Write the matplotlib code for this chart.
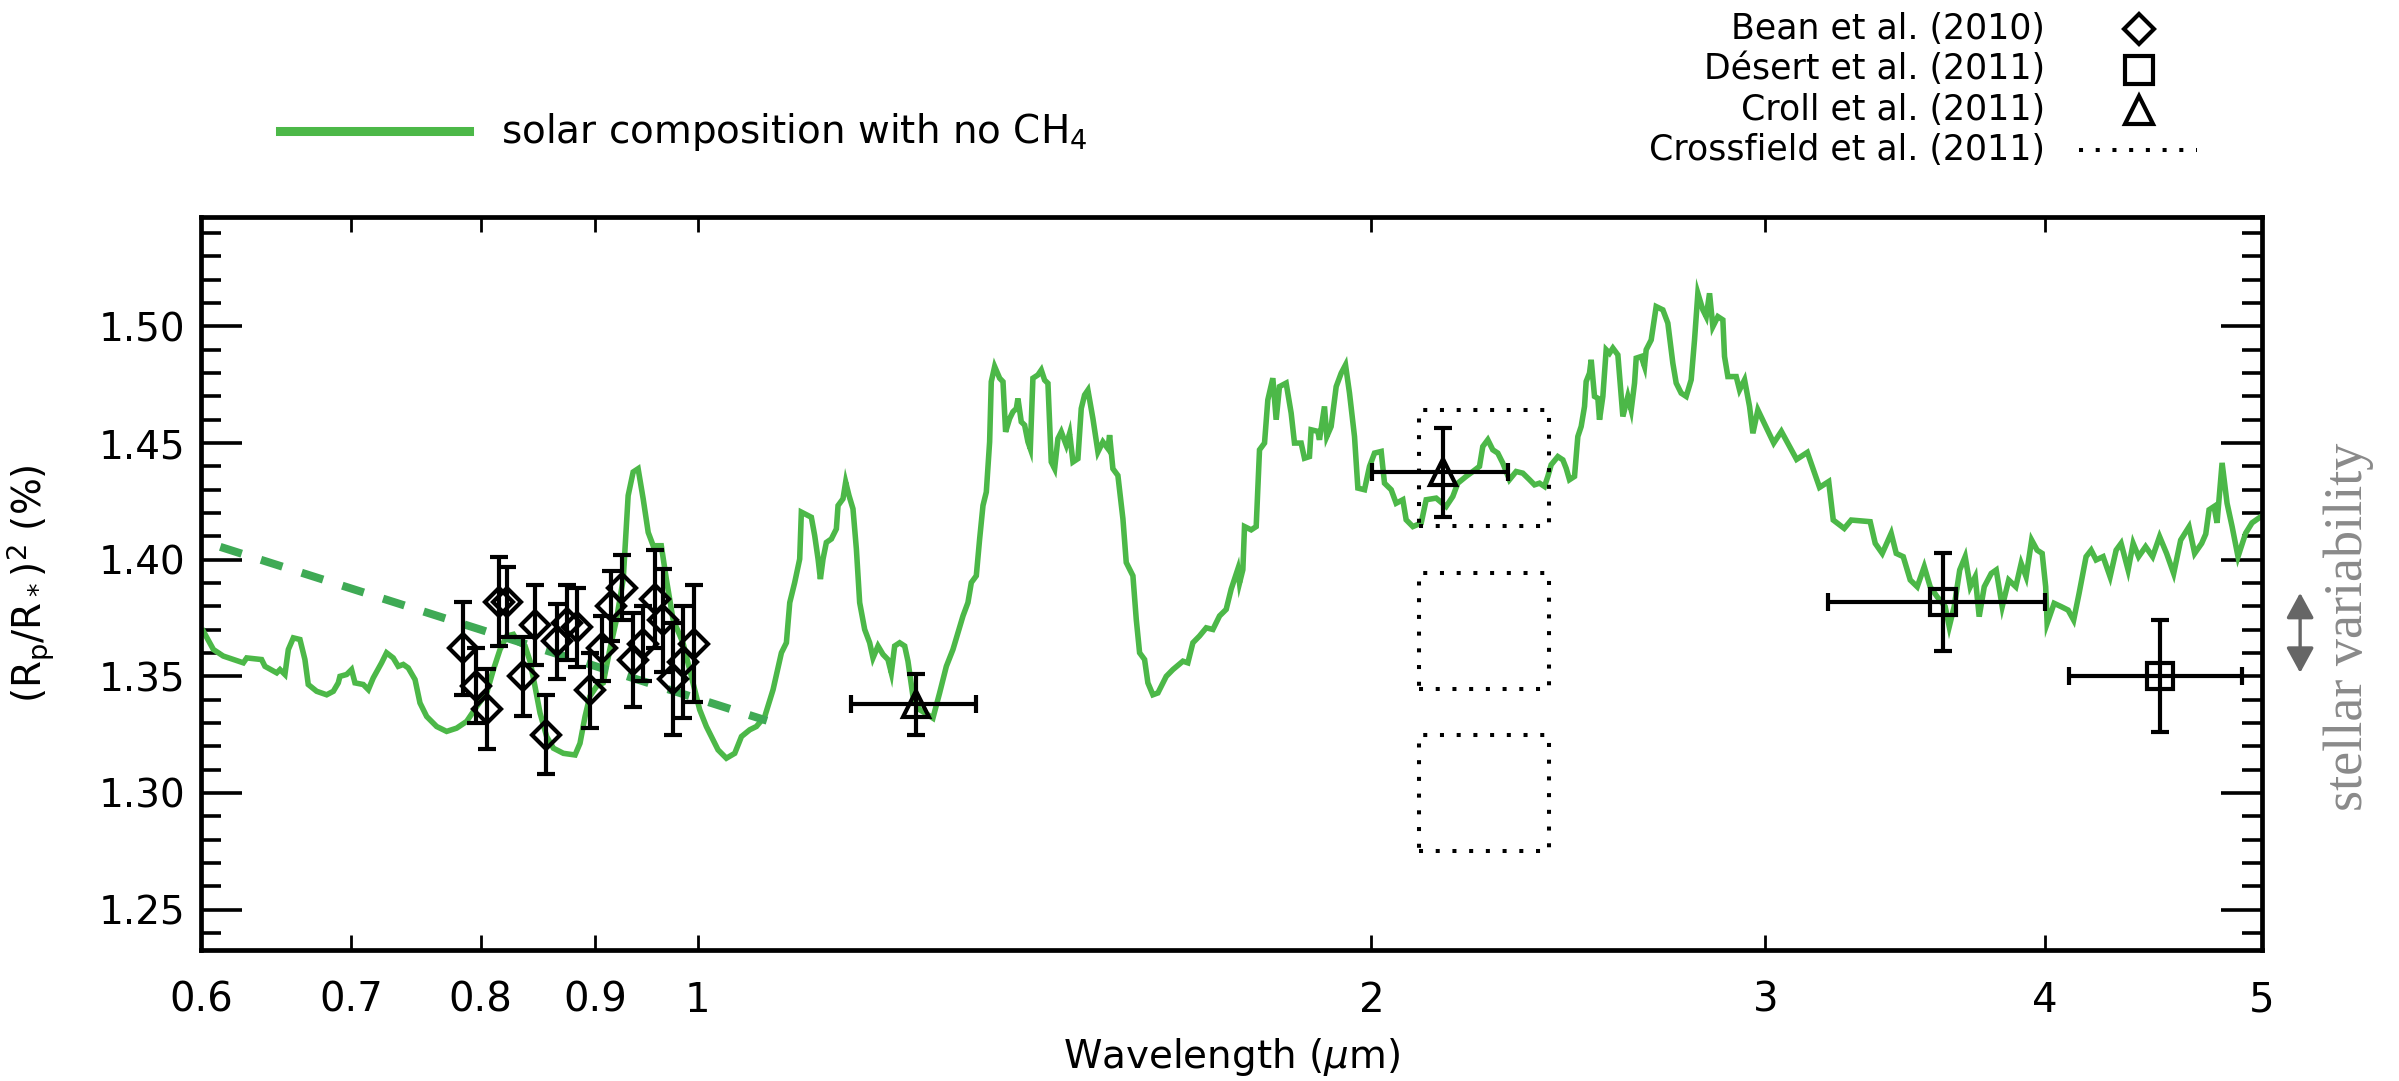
import matplotlib
matplotlib.use("Agg")
import matplotlib.pyplot as plt
import matplotlib.transforms as mtransforms
from matplotlib.lines import Line2D
from matplotlib.patches import FancyArrowPatch
from matplotlib.ticker import FixedLocator, FixedFormatter, MultipleLocator

plt.rcParams['font.family'] = ['DejaVu Sans']
plt.rcParams['mathtext.default'] = 'regular'

# ---------------------------------------------------------------- data
# Model transmission spectrum: solar composition, no CH4 (wavelength in micron, depth in %)
model_wl = [
    0.6014, 0.6077, 0.6139, 0.6267, 0.6289, 0.6386, 0.6408, 0.6486, 0.6508, 0.6541,
    0.6564, 0.6598, 0.6643, 0.6677, 0.6700, 0.6758, 0.6828, 0.6875, 0.6910, 0.6922,
    0.6970, 0.7005, 0.7030, 0.7090, 0.7127, 0.7163, 0.7225, 0.7262, 0.7312, 0.7350,
    0.7388, 0.7426, 0.7478, 0.7516, 0.7568, 0.7646, 0.7725, 0.7805, 0.7886, 0.7968,
    0.8050, 0.8106, 0.8161, 0.8218, 0.8274, 0.8317, 0.8374, 0.8417, 0.8460, 0.8504,
    0.8562, 0.8622, 0.8711, 0.8816, 0.8861, 0.8907, 0.8951, 0.9013, 0.9075, 0.9137,
    0.9200, 0.9264, 0.9311, 0.9359, 0.9407, 0.9456, 0.9505, 0.9554, 0.9634, 0.9684,
    0.9751, 0.9851, 0.9953, 1.0022, 1.0091, 1.0178, 1.0213,
    1.0301, 1.0390, 1.0462, 1.0552, 1.0624, 1.0716, 1.0808, 1.0901, 1.0957, 1.0995,
    1.1051, 1.1108, 1.1127, 1.1204, 1.1242, 1.1281, 1.1320, 1.1347, 1.1378, 1.1417,
    1.1476, 1.1535, 1.1555, 1.1614, 1.1646, 1.1686, 1.1734, 1.1775, 1.1815, 1.1876,
    1.1937, 1.1978, 1.2040, 1.2102, 1.2164, 1.2206, 1.2248, 1.2311, 1.2375, 1.2417,
    1.2481, 1.2567, 1.2675, 1.2740, 1.2828, 1.2917, 1.3005, 1.3072, 1.3140, 1.3207,
    1.3253, 1.3321, 1.3367, 1.3413, 1.3459, 1.3505, 1.3528, 1.3575, 1.3645, 1.3692,
    1.3729, 1.3786, 1.3833, 1.3881, 1.3904, 1.3952, 1.4000, 1.4048, 1.4082, 1.4120,
    1.4193, 1.4242, 1.4291, 1.4340, 1.4389, 1.4439, 1.4488, 1.4538, 1.4613, 1.4663,
    1.4714, 1.4789, 1.4840, 1.4891, 1.4942, 1.5019, 1.5097, 1.5174, 1.5253, 1.5279,
    1.5331, 1.5410, 1.5490, 1.5543, 1.5650, 1.5704, 1.5758, 1.5839, 1.5893, 1.5975,
    1.6058, 1.6196, 1.6307, 1.6476, 1.6560, 1.6646, 1.6760, 1.6876, 1.6992, 1.7109,
    1.7226, 1.7315, 1.7434,
    1.7464, 1.7524, 1.7554, 1.7675, 1.7766, 1.7827, 1.7919, 1.7980, 1.8073, 1.8135,
    1.8197, 1.8322, 1.8417, 1.8480, 1.8607, 1.8671, 1.8767, 1.8799, 1.8929, 1.8961,
    1.9059, 1.9105, 1.9190, 1.9290, 1.9390, 1.9476, 1.9556, 1.9657, 1.9725, 1.9860,
    1.9963, 2.0066, 2.0204, 2.0273, 2.0413, 2.0518, 2.0659, 2.0730, 2.0873, 2.1053,
    2.1161, 2.1380, 2.1600, 2.1749, 2.1861, 2.2049, 2.2201, 2.2354, 2.2430, 2.2546,
    2.2662, 2.2779, 2.2897, 2.3054, 2.3213, 2.3373, 2.3534, 2.3656, 2.3778, 2.3900,
    2.3983, 2.4065, 2.4231, 2.4356, 2.4439, 2.4523, 2.4650, 2.4734, 2.4819, 2.4905,
    2.4947, 2.5033, 2.5076, 2.5162, 2.5249, 2.5292, 2.5379, 2.5466, 2.5554, 2.5642,
    2.5774, 2.5907, 2.6040, 2.6130, 2.6220, 2.6265, 2.6400, 2.6491, 2.6536, 2.6673,
    2.6810, 2.6995, 2.7134, 2.7274, 2.7368, 2.7509, 2.7651, 2.7793, 2.7889, 2.7985,
    2.8129, 2.8226, 2.8323, 2.8420, 2.8567, 2.8714, 2.8763, 2.8862, 2.9111, 2.9211,
    2.9362, 2.9513, 2.9615, 2.9767,
    3.0256, 3.0495, 3.0977, 3.1321, 3.1717, 3.2017,
    3.2167, 3.2533, 3.2768, 3.3413, 3.3587, 3.3830, 3.4143, 3.4321, 3.4569, 3.4819,
    3.5070, 3.5324, 3.5540, 3.5797, 3.6092, 3.6244, 3.6429, 3.6637, 3.6843, 3.7035,
    3.7225, 3.7378, 3.7573, 3.7844, 3.8038, 3.8274, 3.8531, 3.8813, 3.9028, 3.9227,
    3.9451, 3.9673, 3.9880, 4.0024, 4.0084, 4.0374, 4.0665, 4.0959, 4.1193, 4.1424,
    4.1723, 4.1941, 4.2155, 4.2460, 4.2767, 4.3033, 4.3253, 4.3566, 4.3793, 4.4039,
    4.4357, 4.4678, 4.5000, 4.5325, 4.5657, 4.5987, 4.6384, 4.6654, 4.6991,
    4.7189, 4.7350, 4.7593, 4.7740, 4.7989, 4.8235, 4.8486, 4.8781, 4.9168, 4.9489,
    4.9951,
]
model_depth = [
    1.3694, 1.3615, 1.3587, 1.3558, 1.3579, 1.3572, 1.3543, 1.3515, 1.3529, 1.3508,
    1.3615, 1.3665, 1.3658, 1.3572, 1.3465, 1.3436, 1.3421, 1.3436, 1.3472, 1.3500,
    1.3508, 1.3529, 1.3472, 1.3465, 1.3443, 1.3493, 1.3558, 1.3601, 1.3579, 1.3543,
    1.3551, 1.3536, 1.3486, 1.3386, 1.3328, 1.3285, 1.3264, 1.3278, 1.3307, 1.3371,
    1.3429, 1.3529, 1.3615, 1.3673, 1.3680, 1.3644, 1.3630, 1.3565, 1.3457, 1.3343,
    1.3242, 1.3192, 1.3170, 1.3163, 1.3213, 1.3328, 1.3414, 1.3457, 1.3472, 1.3615,
    1.3744, 1.3917, 1.4275, 1.4376, 1.4390, 1.4261, 1.4117, 1.4060, 1.4060, 1.3917,
    1.3744, 1.3644, 1.3472, 1.3357, 1.3285, 1.3213, 1.3185,
    1.3149, 1.3170, 1.3242, 1.3271, 1.3285, 1.3328, 1.3443, 1.3601, 1.3644, 1.3816,
    1.3902, 1.4003, 1.4204, 1.4189, 1.4182, 1.4103, 1.4003, 1.3917, 1.4003, 1.4074,
    1.4089, 1.4132, 1.4232, 1.4261, 1.4333, 1.4275, 1.4218, 1.4046, 1.3816, 1.3701,
    1.3644, 1.3579, 1.3630, 1.3594, 1.3572, 1.3515, 1.3630, 1.3644, 1.3630, 1.3565,
    1.3414, 1.3357, 1.3335, 1.3321, 1.3429, 1.3543, 1.3615, 1.3687, 1.3759, 1.3816,
    1.3902, 1.3931, 1.4089, 1.4232, 1.4290, 1.4505, 1.4763, 1.4828, 1.4778, 1.4763,
    1.4548, 1.4605, 1.4634, 1.4648, 1.4691, 1.4591, 1.4577, 1.4505, 1.4476, 1.4778,
    1.4792, 1.4813, 1.4770, 1.4756, 1.4419, 1.4390, 1.4519, 1.4548, 1.4491, 1.4541,
    1.4419, 1.4433, 1.4648, 1.4706, 1.4727, 1.4605, 1.4462, 1.4505, 1.4476, 1.4534,
    1.4390, 1.4361, 1.4175, 1.3988, 1.3931, 1.3744, 1.3601, 1.3572, 1.3472, 1.3421,
    1.3429, 1.3500, 1.3529, 1.3565, 1.3558, 1.3644, 1.3673, 1.3708, 1.3701, 1.3759,
    1.3787, 1.3874, 1.3960,
    1.3900, 1.3957, 1.4142, 1.4128, 1.4142, 1.4471, 1.4500, 1.4685, 1.4778, 1.4600,
    1.4742, 1.4757, 1.4628, 1.4500, 1.4500, 1.4435, 1.4442, 1.4557, 1.4550, 1.4514,
    1.4657, 1.4528, 1.4571, 1.4742, 1.4800, 1.4835, 1.4714, 1.4528, 1.4307, 1.4300,
    1.4400, 1.4457, 1.4464, 1.4328, 1.4300, 1.4242, 1.4257, 1.4171, 1.4142, 1.4157,
    1.4257, 1.4264, 1.4228, 1.4271, 1.4328, 1.4357, 1.4378, 1.4400, 1.4485, 1.4514,
    1.4471, 1.4457, 1.4414, 1.4343, 1.4378, 1.4371, 1.4343, 1.4321, 1.4328, 1.4314,
    1.4357, 1.4407, 1.4442, 1.4428, 1.4392, 1.4343, 1.4357, 1.4528, 1.4571, 1.4657,
    1.4764, 1.4800, 1.4857, 1.4700, 1.4692, 1.4600, 1.4700, 1.4900, 1.4885, 1.4907,
    1.4878, 1.4614, 1.4700, 1.4642, 1.4757, 1.4864, 1.4871, 1.4828, 1.4900, 1.4942,
    1.5085, 1.5071, 1.5014, 1.4842, 1.4757, 1.4714, 1.4700, 1.4771, 1.4942, 1.5142,
    1.5071, 1.5042, 1.5142, 1.4999, 1.5042, 1.5028, 1.4871, 1.4785, 1.4785, 1.4728,
    1.4771, 1.4657, 1.4542, 1.4642,
    1.4500, 1.4550, 1.4430, 1.4460, 1.4310, 1.4335,
    1.4170, 1.4134, 1.4170, 1.4163, 1.4070, 1.4027, 1.4113, 1.4027, 1.4013, 1.3913,
    1.3884, 1.3970, 1.3884, 1.3841, 1.3799, 1.3713, 1.3799, 1.3956, 1.4013, 1.3884,
    1.3927, 1.3756, 1.3884, 1.3941, 1.3956, 1.3799, 1.3913, 1.3884, 1.3984, 1.3927,
    1.4084, 1.4041, 1.4027, 1.3884, 1.3727, 1.3813, 1.3799, 1.3784, 1.3741, 1.3856,
    1.4013, 1.4041, 1.3999, 1.4013, 1.3927, 1.4041, 1.4070, 1.3956, 1.4070, 1.4013,
    1.4056, 1.4013, 1.4099, 1.4027, 1.3941, 1.4084, 1.4141, 1.4027, 1.4070,
    1.4110, 1.4214, 1.4228, 1.4158, 1.4415, 1.4242, 1.4142, 1.4013, 1.4114, 1.4158,
    1.4185,
]

# Sloped (hazy) reference line
slope_wl = [0.612, 1.074]
slope_depth = [1.4055, 1.331]

# Bean et al. (2010)
bean_wl = [0.786, 0.796, 0.805, 0.815, 0.822, 0.836, 0.846, 0.856, 0.865, 0.874, 0.883,
           0.895, 0.906, 0.915, 0.925, 0.936, 0.945, 0.957, 0.965, 0.975, 0.985, 0.996]
bean_depth = [1.362, 1.346, 1.336, 1.382, 1.382, 1.350, 1.372, 1.325, 1.365, 1.373, 1.371,
              1.344, 1.362, 1.380, 1.388, 1.357, 1.364, 1.383, 1.374, 1.349, 1.356, 1.364]
bean_err = [0.020, 0.016, 0.017, 0.019, 0.015, 0.017, 0.017, 0.017, 0.016, 0.016, 0.017,
            0.016, 0.014, 0.015, 0.014, 0.020, 0.016, 0.021, 0.022, 0.024, 0.024, 0.025]

# Desert et al. (2011), Spitzer IRAC
desert_wl = [3.6, 4.5]
desert_wl_err = [0.4, 0.4]
desert_depth = [1.382, 1.350]
desert_err = [0.021, 0.024]

# Croll et al. (2011), J and Ks
croll_wl = [1.252, 2.152]
croll_wl_lo = [0.081, 0.150]
croll_wl_hi = [0.080, 0.149]
croll_depth = [1.338, 1.4375]
croll_err = [0.013, 0.019]

# Crossfield et al. (2011) Ks-band boxes
cf_wl_range = [2.10, 2.40]
cf_lo = [1.4145, 1.3446, 1.2752]
cf_hi = [1.4642, 1.3945, 1.3249]

# Stellar variability amplitude
var_lo, var_hi = 1.3515, 1.3858

xticks = [0.6, 0.7, 0.8, 0.9, 1, 2, 3, 4, 5]
xticklabels = ['0.6', '0.7', '0.8', '0.9', '1', '2', '3', '4', '5']
yticks = [1.25, 1.30, 1.35, 1.40, 1.45, 1.50]
yticklabels = ['1.25', '1.30', '1.35', '1.40', '1.45', '1.50']

# ---------------------------------------------------------------- figure
W, H = 2399, 1081
fig = plt.figure(figsize=(W / 100, H / 100), dpi=100)
ax = fig.add_axes([201 / W, 1 - 950 / H, 2061 / W, 733 / H])

green = '#4cb848'
green_dash = '#3faa55'

ax.plot(model_wl, model_depth, color=green, lw=4.0, solid_joinstyle='miter', zorder=2)
ax.plot(slope_wl, slope_depth, color=green_dash, lw=5.8, linestyle=(0, (2.8, 2.5)),
        dash_capstyle='butt', zorder=2)

for k in range(len(cf_lo)):
    x0, x1 = cf_wl_range
    ax.plot([x0, x1, x1, x0, x0], [cf_lo[k], cf_lo[k], cf_hi[k], cf_hi[k], cf_lo[k]],
            color='black', lw=2.9, linestyle=(0, (1, 3.15)), dash_capstyle='butt', zorder=3)

ekw = dict(fmt='none', ecolor='black', elinewidth=3.0, capsize=6.5, capthick=3.0, zorder=4)
mkw = dict(linestyle='none', mfc='none', mec='black', mew=3.0, zorder=5)

ax.errorbar(bean_wl, bean_depth, yerr=bean_err, **ekw)
ax.plot(bean_wl, bean_depth, marker='D', ms=14, **mkw)

ax.errorbar(desert_wl, desert_depth, xerr=desert_wl_err, yerr=desert_err, **ekw)
ax.plot(desert_wl, desert_depth, marker='s', ms=19, **mkw)

ax.errorbar(croll_wl, croll_depth, xerr=[croll_wl_lo, croll_wl_hi], yerr=croll_err, **ekw)
ax.plot(croll_wl, croll_depth, marker='^', ms=19, **mkw)

# axes formatting
ax.set_xscale('log')
ax.set_xlim(0.6, 5.0)
ax.set_ylim(1.2327, 1.5469)
ax.xaxis.set_major_locator(FixedLocator(xticks))
ax.xaxis.set_major_formatter(FixedFormatter(xticklabels))
ax.xaxis.set_minor_locator(FixedLocator([]))
ax.yaxis.set_major_locator(FixedLocator(yticks))
ax.yaxis.set_major_formatter(FixedFormatter(yticklabels))
ax.yaxis.set_minor_locator(MultipleLocator(0.01))

ax.tick_params(axis='x', which='major', direction='in', length=11, width=2.0,
               top=True, labelsize=29, pad=22)
ax.tick_params(axis='y', which='major', direction='in', length=29.5, width=2.6,
               right=True, labelsize=28, pad=11)
ax.tick_params(axis='y', which='minor', direction='in', length=14.5, width=2.6, right=True)
for sp in ax.spines.values():
    sp.set_linewidth(3.4)

ax.set_xlabel(r'Wavelength ($\mathit{\mu}$m)', fontsize=28)
ax.xaxis.set_label_coords(0.5, -0.118)
ax.set_ylabel(r'$(R_p/R_*)^2$ (%)', fontsize=28)
ax.yaxis.set_label_coords(-0.07, 0.5)

# stellar variability marker
trans = mtransforms.blended_transform_factory(ax.transAxes, ax.transData)
arrow = FancyArrowPatch((1.0185, var_lo), (1.0185, var_hi), transform=trans,
                        arrowstyle='<|-|>,head_length=0.55,head_width=0.3',
                        mutation_scale=28, color='#666666', lw=2.4, clip_on=False,
                        shrinkA=0, shrinkB=0)
ax.add_artist(arrow)
fig.text(2349 / W, 1 - 627 / H, 'stellar variability', rotation=90, ha='center', va='center',
         fontsize=39, color='#8a8a8a', family=['Liberation Serif', 'DejaVu Serif'])

# model legend
fig.add_artist(Line2D([280 / W, 469 / W], [1 - 131 / H, 1 - 131 / H], color=green, lw=6.5,
                      transform=fig.transFigure))
fig.text(501 / W, 1 - 143 / H, r'solar composition with no CH$_4$', fontsize=28,
         ha='left', va='baseline')

# data legend
rows = [28.5, 69.5, 110, 150]
labels = ['Bean et al. (2010)', 'Désert et al. (2011)', 'Croll et al. (2011)',
          'Crossfield et al. (2011)']
for yy, lab in zip(rows, labels):
    fig.text(2045 / W, 1 - yy / H, lab, fontsize=25, ha='right', va='center')
for yy, mk, ms in zip(rows[:3], ['D', 's', '^'], [15, 20, 20]):
    fig.add_artist(Line2D([2139 / W], [1 - yy / H], marker=mk, ms=ms, mfc='none', mec='black',
                          mew=3.0, linestyle='none', transform=fig.transFigure))
fig.add_artist(Line2D([2079 / W, 2197 / W], [1 - rows[3] / H, 1 - rows[3] / H], color='black',
                      lw=2.9, linestyle=(0, (1, 3.15)), dash_capstyle='butt',
                      transform=fig.transFigure))

fig.savefig('out.png', dpi=100)
